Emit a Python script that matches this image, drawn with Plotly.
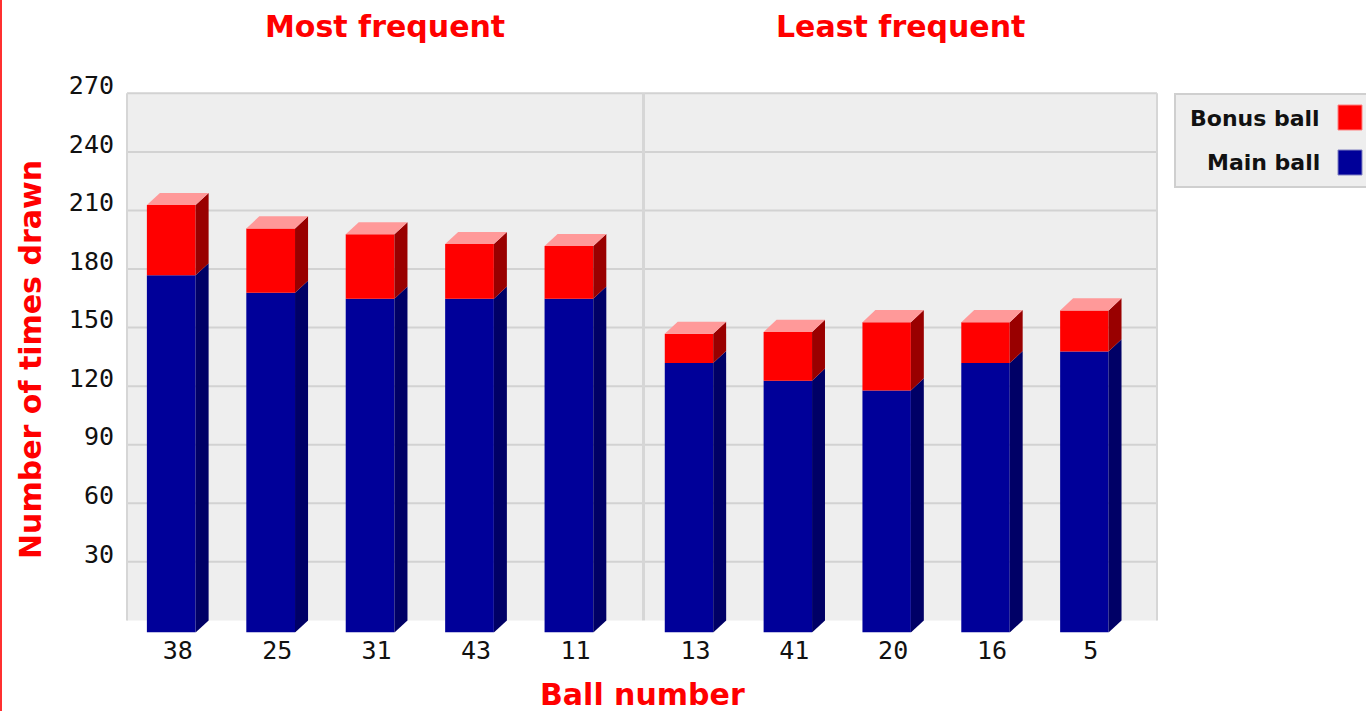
import plotly.graph_objects as go

# Lottery ball draw counts (main draws + bonus draws)
most_balls = ["38", "25", "31", "43", "11"]
most_main = [183, 174, 171, 171, 171]
most_bonus = [36, 33, 33, 28, 27]

least_balls = ["13", "41", "20", "16", "5"]
least_main = [138, 129, 124, 138, 144]
least_bonus = [15, 25, 35, 21, 21]

y_ticks = [30, 60, 90, 120, 150, 180, 210, 240, 270]

# Figure geometry helpers (pixel -> paper)
W, H = 1366, 711


def px(p):
    return p / W


def py(p):
    return 1 - p / H


MAIN_FRONT, MAIN_SIDE = "#000099", "#000066"
BONUS_FRONT, BONUS_SIDE, BONUS_TOP = "#FF0000", "#990000", "#FF9999"
WALL, GRID = "#EEEEEE", "#D2D2D2"
RED_TEXT = "#FF0000"

BAR_W = 0.49      # bar width in category units
DX = 0.131        # 3D depth, horizontal (category units)
DY = 6.2          # 3D depth, vertical (value units)
Y_TOP = 270
PX_PER_UNIT = 1.952
PLOT_BOTTOM, PLOT_TOP = 632.5, 78.0     # pixel rows of the value axis extent
Y_MAX = (PLOT_BOTTOM - PLOT_TOP) / PX_PER_UNIT

fig = go.Figure()

groups = [
    ("x", most_balls, most_main, most_bonus),
    ("x2", least_balls, least_main, least_bonus),
]

shapes = []

# back wall behind each group
for xref in ("x", "x2"):
    shapes.append(dict(type="rect", xref=f"{xref} domain", yref="y",
                       x0=0, x1=1, y0=DY, y1=Y_TOP + DY,
                       fillcolor=WALL, line=dict(width=0), layer="below"))

# horizontal grid lines on the back wall
for v in y_ticks:
    shapes.append(dict(type="line", xref="paper", yref="y",
                       x0=px(127), x1=px(1157), y0=v + DY, y1=v + DY,
                       line=dict(color=GRID, width=2), layer="below"))

# wall borders and the divider between the two groups
for xp, wdt in ((127, 2), (643.5, 3), (1157, 2)):
    shapes.append(dict(type="line", xref="paper", yref="y",
                       x0=px(xp), x1=px(xp), y0=DY, y1=Y_TOP + DY,
                       line=dict(color="#D6D6D6", width=wdt), layer="below"))

for xref, balls, main, bonus in groups:
    idx = list(range(len(balls)))
    fig.add_trace(go.Bar(x=idx, y=main, name="Main ball", width=BAR_W,
                         marker=dict(color=MAIN_FRONT, line=dict(width=0)),
                         xaxis=xref, yaxis="y", showlegend=False))
    fig.add_trace(go.Bar(x=idx, y=bonus, base=main, name="Bonus ball", width=BAR_W,
                         marker=dict(color=BONUS_FRONT, line=dict(width=0)),
                         xaxis=xref, yaxis="y", showlegend=False))

    # 3D side and top faces built from the same values
    for i, (m, b) in enumerate(zip(main, bonus)):
        xl, xr = i - BAR_W / 2, i + BAR_W / 2
        tot = m + b
        for y0, y1, col in ((0, m, MAIN_SIDE), (m, tot, BONUS_SIDE)):
            path = (f"M {xr},{y0} L {xr + DX},{y0 + DY} "
                    f"L {xr + DX},{y1 + DY} L {xr},{y1} Z")
            shapes.append(dict(type="path", xref=xref, yref="y", path=path,
                               fillcolor=col, line=dict(width=0), layer="above"))
        path = (f"M {xl},{tot} L {xl + DX},{tot + DY} "
                f"L {xr + DX},{tot + DY} L {xr},{tot} Z")
        shapes.append(dict(type="path", xref=xref, yref="y", path=path,
                           fillcolor=BONUS_TOP, line=dict(width=0), layer="above"))

# legend box (swatches on the right of the labels)
shapes.append(dict(type="rect", xref="paper", yref="paper",
                   x0=px(1175), x1=px(1368), y0=py(94), y1=py(187),
                   fillcolor=WALL, line=dict(color="#CFCFCF", width=2)))
legend_items = [("Bonus ball", BONUS_FRONT, 118), ("Main ball", MAIN_FRONT, 163)]
annotations = []
for label, col, yc in legend_items:
    shapes.append(dict(type="rect", xref="paper", yref="paper",
                       x0=px(1338), x1=px(1362), y0=py(yc - 13), y1=py(yc + 12),
                       fillcolor=col,
                       line=dict(color="#8080C0" if col == MAIN_FRONT else "#FF8080", width=1)))
    annotations.append(dict(text=f"<b>{label}</b>", xref="paper", yref="paper",
                            x=px(1322), y=py(yc), xanchor="right", yanchor="middle",
                            showarrow=False,
                            font=dict(family="DejaVu Sans", size=22, color="#111111")))

# red rule on the left edge
shapes.append(dict(type="line", xref="paper", yref="paper", x0=px(1), x1=px(1),
                   y0=0, y1=1, line=dict(color="#FF3030", width=2)))

title_font = dict(family="DejaVu Sans", size=30, color=RED_TEXT)
annotations += [
    dict(text="<b>Most frequent</b>", xref="paper", yref="paper", x=px(384.5), y=py(27),
         xanchor="center", yanchor="middle", showarrow=False, font=title_font),
    dict(text="<b>Least frequent</b>", xref="paper", yref="paper", x=px(900), y=py(27),
         xanchor="center", yanchor="middle", showarrow=False, font=title_font),
    dict(text="<b>Number of times drawn</b>", xref="paper", yref="paper", x=px(30), y=py(360),
         xanchor="center", yanchor="middle", textangle=-90, showarrow=False, font=title_font),
    dict(text="<b>Ball number</b>", xref="paper", yref="paper", x=px(642), y=py(694),
         xanchor="center", yanchor="middle", showarrow=False, font=title_font),
]

tick_font = dict(family="DejaVu Sans Mono", size=25, color="#111111")
xcommon = dict(range=[-0.445, 4.735], showgrid=False, zeroline=False, showline=False,
               ticks="", tickfont=tick_font, anchor="y", fixedrange=True,
               ticklabelstandoff=0, automargin=False)

fig.update_layout(
    width=W, height=H, autosize=False,
    margin=dict(l=0, r=0, t=0, b=0, pad=0, autoexpand=False),
    paper_bgcolor="white", plot_bgcolor="rgba(0,0,0,0)",
    barmode="overlay", showlegend=False,
    xaxis=dict(domain=[px(127), px(642)],
               tickvals=[i + DX / 2 for i in range(len(most_balls))],
               ticktext=most_balls, **xcommon),
    xaxis2=dict(domain=[px(645), px(1157)],
                tickvals=[i + DX / 2 for i in range(len(least_balls))],
                ticktext=least_balls, **xcommon),
    yaxis=dict(domain=[py(PLOT_BOTTOM), py(PLOT_TOP)], range=[0, Y_MAX],
               showgrid=False, zeroline=False, showline=False, ticks="",
               tickvals=[v + DY + 4.1 for v in y_ticks], ticktext=[str(v) for v in y_ticks],
               tickfont=tick_font, anchor="x", ticklabelstandoff=12, fixedrange=True,
               automargin=False),
    shapes=shapes,
    annotations=annotations,
)

fig.write_html("out.html")
